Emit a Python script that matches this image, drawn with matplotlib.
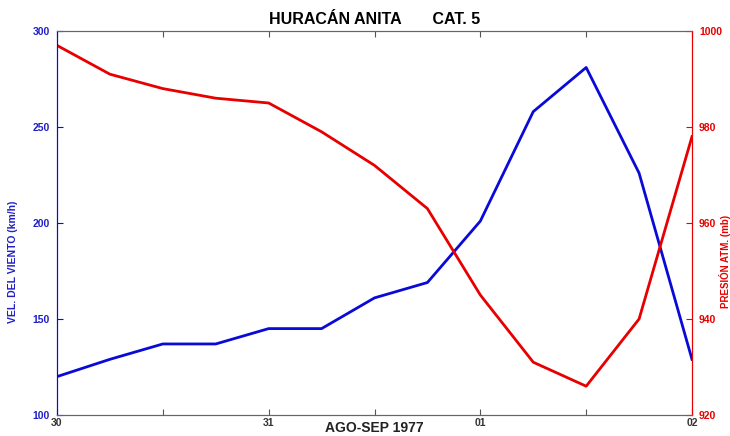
import matplotlib
matplotlib.use("Agg")
import matplotlib.pyplot as plt

plt.rcParams['font.family'] = ['Liberation Sans', 'DejaVu Sans']
plt.rcParams['font.weight'] = 'bold'

# 6-hourly observations, 30 Aug - 02 Sep 1977 (days from 30 Aug 00h)
dias = [0, 0.25, 0.5, 0.75, 1.0, 1.25, 1.5, 1.75, 2.0, 2.25, 2.5, 2.75, 3.0]
viento = [120, 129, 137, 137, 145, 145, 161, 169, 201, 258, 281, 226, 129]
presion = [997, 991, 988, 986, 985, 979, 972, 963, 945, 931, 926, 940, 978]

tick_pos = [0, 0.5, 1, 1.5, 2, 2.5, 3]
tick_lab = ['30', '', '31', '', '01', '', '02']

azul = '#0a0ad8'
rojo = '#e80000'

fig = plt.figure(figsize=(7.3, 4.36), dpi=100)
ax = fig.add_axes([57/730, 1-415/436, 635/730, 384/436])
ax2 = ax.twinx()

ax.plot(dias, viento, color=azul, lw=2)
ax2.plot(dias, presion, color=rojo, lw=2)

ax.set_xlim(0, 3)
ax.set_ylim(100, 300)
ax2.set_ylim(920, 1000)
ax.set_yticks([100, 150, 200, 250, 300])
ax2.set_yticks([920, 940, 960, 980, 1000])
ax.set_xticks(tick_pos)
ax.set_xticklabels(tick_lab)

ax.tick_params(axis='x', direction='in', top=True, length=4, color='#555555',
               labelsize=7.5, labelcolor='#333333', pad=2)
ax.tick_params(axis='y', direction='in', length=4, color=azul,
               labelsize=7.5, labelcolor='#2020c8', pad=5)
ax2.tick_params(axis='y', direction='in', length=4, color=rojo,
                labelsize=7.5, labelcolor=rojo, pad=5)

for a in (ax, ax2):
    a.spines['top'].set_color('#666666')
    a.spines['bottom'].set_color('#666666')
    a.spines['left'].set_color(azul)
    a.spines['right'].set_color(rojo)

ax.set_ylabel('VEL. DEL VIENTO (km/h)', color='#2020c8', fontsize=7.5, fontweight='bold')
ax.yaxis.set_label_coords(-0.062, 0.40)
ax2.set_ylabel('PRESIÓN ATM. (mb)', color=rojo, fontsize=7, fontweight='bold')
ax2.yaxis.set_label_coords(1.052, 0.40)
ax2.yaxis.label.set_va('center')

ax.set_xlabel('AGO-SEP 1977', fontsize=10, fontweight='bold', color='#222222')
ax.xaxis.set_label_coords(0.5, -0.033)
ax.xaxis.label.set_va('center')

ax.set_title('HURACÁN ANITA       CAT. 5', fontsize=11.5, fontweight='bold', pad=5)

fig.savefig('out.png', dpi=100)
